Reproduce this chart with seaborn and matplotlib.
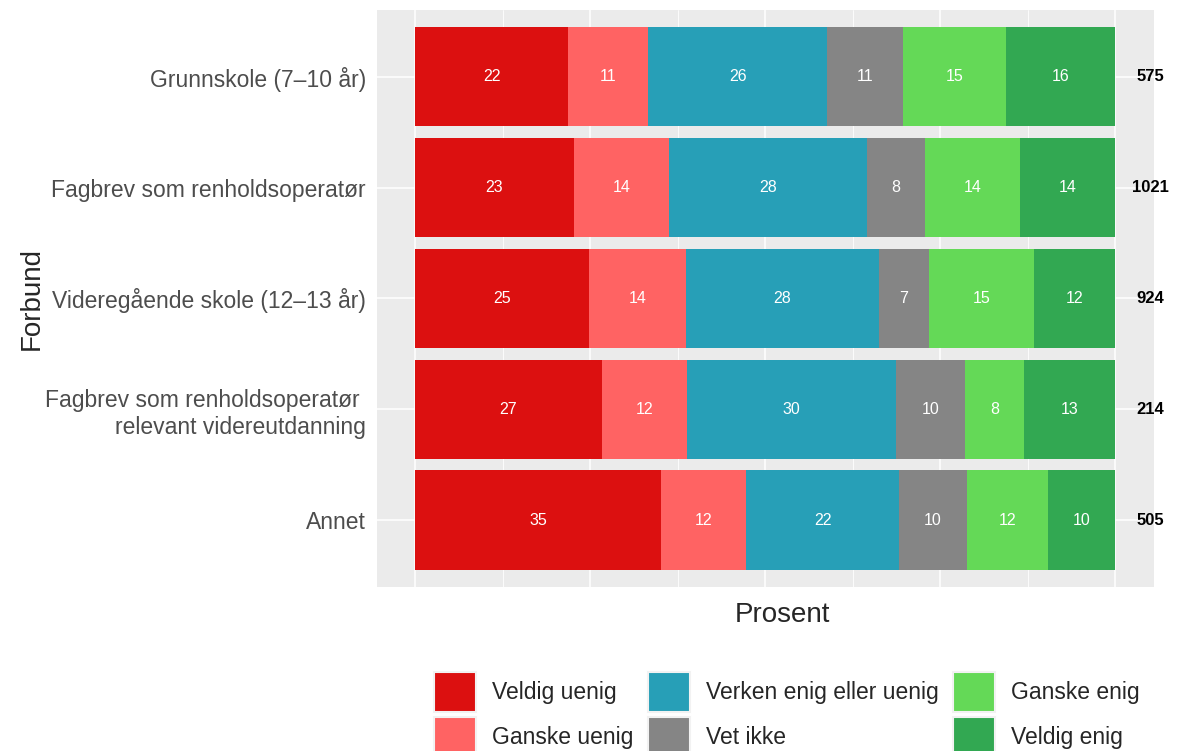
import numpy as np
import pandas as pd
import seaborn as sns
import matplotlib.pyplot as plt
from matplotlib.patches import Patch

groups = ["Grunnskole (7\u201310 år)",
          "Fagbrev som renholdsoperatør",
          "Videregående skole (12\u201313 år)",
          "Fagbrev som renholdsoperatør \nrelevant videreutdanning",
          "Annet"]
answers = ["Veldig uenig", "Ganske uenig", "Verken enig eller uenig",
           "Vet ikke", "Ganske enig", "Veldig enig"]
colors = ["#DC1010", "#FF6363", "#279FB7", "#858585", "#64D957", "#32A852"]

# percent per group
veldig_uenig = [21.9, 22.7, 24.9, 26.7, 35.1]
ganske_uenig = [11.4, 13.6, 13.8, 12.1, 12.2]
verken = [25.6, 28.3, 27.6, 29.9, 21.9]
vet_ikke = [10.8, 8.2, 7.1, 9.9, 9.6]
ganske_enig = [14.7, 13.6, 15.0, 8.4, 11.6]
veldig_enig = [15.6, 13.6, 11.6, 13.0, 9.6]
n_resp = [575, 1021, 924, 214, 505]

pct = np.array([veldig_uenig, ganske_uenig, verken, vet_ikke, ganske_enig, veldig_enig]).T
cum = pct.cumsum(axis=1)

sns.set_theme(style="darkgrid")
plt.rcParams["font.family"] = ["Liberation Sans", "DejaVu Sans"]

fig = plt.figure(figsize=(11.84, 7.51), dpi=100)
ax = fig.add_axes([0.3184, 0.2184, 0.6563, 0.7683])
ax.set_facecolor("#EBEBEB")

# stacked bars: draw cumulative totals from the widest down
for j in range(len(answers) - 1, -1, -1):
    df = pd.DataFrame({"grp": groups, "v": cum[:, j]})
    sns.barplot(data=df, x="v", y="grp", orient="h", color=colors[j],
                width=0.9, saturation=1, linewidth=0, ax=ax, zorder=2)

for i in range(len(groups)):
    for j in range(len(answers)):
        mid = cum[i, j] - pct[i, j] / 2
        ax.text(mid, i, f"{pct[i, j]:.0f}", color="white", ha="center",
                va="center", fontsize=11.5, zorder=3)
    ax.text(105, i, f"{n_resp[i]}", color="black", ha="center", va="center",
            fontsize=12, fontweight="bold", zorder=3)

ax.set_xlim(-5.43, 105.57)
ax.set_ylim(4.6, -0.6)
ax.set_xticks([0, 25, 50, 75, 100])
ax.set_xticks([12.5, 37.5, 62.5, 87.5], minor=True)
ax.set_xticklabels([])
ax.grid(which="major", color="white", lw=1.1, zorder=0)
ax.grid(which="minor", axis="x", color="white", lw=0.6, zorder=0)
ax.set_axisbelow(True)
ax.tick_params(axis="both", length=0, labelsize=16.5, labelcolor="#4D4D4D", pad=8)
for s in ax.spines.values():
    s.set_visible(False)
ax.set_xlabel("Prosent", fontsize=20, labelpad=3)
ax.xaxis.label.set_x(0.522)
ax.set_ylabel("Forbund", fontsize=20, labelpad=0)

handles = [Patch(facecolor=c, edgecolor="#F2F2F2", lw=1.5) for c in colors]
fig.legend(handles, answers, ncol=3, loc="upper left", bbox_to_anchor=(0.3587, 0.118),
           frameon=False, fontsize=16.5, handlelength=1.82, handleheight=2.35,
           handletextpad=0.7, columnspacing=0.65, labelspacing=0.2, borderaxespad=0)

fig.savefig("out.png", dpi=100)
